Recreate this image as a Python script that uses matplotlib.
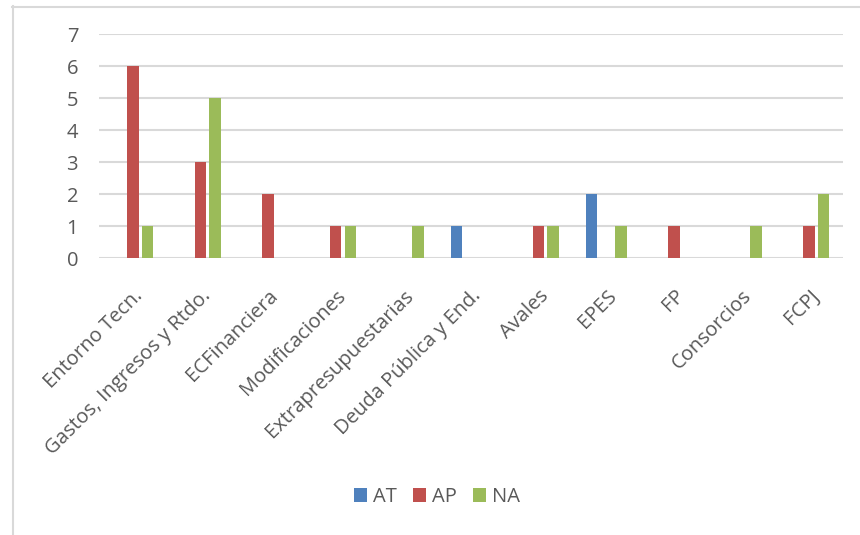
import matplotlib.pyplot as plt
from matplotlib.lines import Line2D
import numpy as np

categorias = ['Entorno Tecn.', 'Gastos, Ingresos y Rtdo.', 'ECFinanciera',
              'Modificaciones', 'Extrapresupuestarias', 'Deuda Pública y End.',
              'Avales', 'EPES', 'FP', 'Consorcios', 'FCPJ']
at = [0, 0, 0, 0, 0, 1, 0, 2, 0, 0, 0]
ap = [6, 3, 2, 1, 0, 0, 1, 0, 1, 0, 1]
na = [1, 5, 0, 1, 1, 0, 1, 1, 0, 1, 2]
series = [('AT', at, '#4F81BD'), ('AP', ap, '#C0504D'), ('NA', na, '#9BBB59')]

plt.rcParams['font.family'] = ['Open Sans', 'DejaVu Sans']
gris = '#595959'

fig = plt.figure(figsize=(8.6, 5.35), dpi=100)
ax = fig.add_axes([99/860, 1 - 258/535, (843 - 99)/860, (258 - 34)/535])

x = np.arange(len(categorias))
paso = 0.215
ancho = 0.17
for i, (nombre, vals, col) in enumerate(series):
    ax.bar(x + (i - 1)*paso, vals, ancho, color=col, label=nombre, zorder=3)

ax.set_xlim(-0.5, len(categorias) - 0.5)
ax.set_ylim(0, 7)
ax.set_yticks(range(8))
ax.yaxis.grid(True, color='#D9D9D9', linewidth=1.5, zorder=0)
for s in ax.spines.values():
    s.set_visible(False)
ax.tick_params(axis='both', length=0, colors=gris, labelsize=14.5)
ax.tick_params(axis='y', pad=15)
ax.set_xticks(x)
ax.set_xticklabels(categorias, rotation=45, ha='right', rotation_mode='anchor')
ax.tick_params(axis='x', pad=20)
for lbl in ax.get_yticklabels() + ax.get_xticklabels():
    lbl.set_color(gris)

ax.legend(loc='center', bbox_to_anchor=(437/860, 1 - 497/535),
          bbox_transform=fig.transFigure, ncol=3, frameon=False,
          fontsize=14.5, labelcolor=gris, handlelength=0.65, handleheight=0.65,
          handletextpad=0.3, columnspacing=0.8)

# borde del área del gráfico
fig.add_artist(Line2D([12.5/860, 12.5/860], [0, 1 - 6/535], transform=fig.transFigure,
                      color='#D9D9D9', linewidth=1.5))
fig.add_artist(Line2D([12/860, 1], [1 - 6.5/535, 1 - 6.5/535], transform=fig.transFigure,
                      color='#D9D9D9', linewidth=1.5))

fig.savefig('out.png', dpi=100)
